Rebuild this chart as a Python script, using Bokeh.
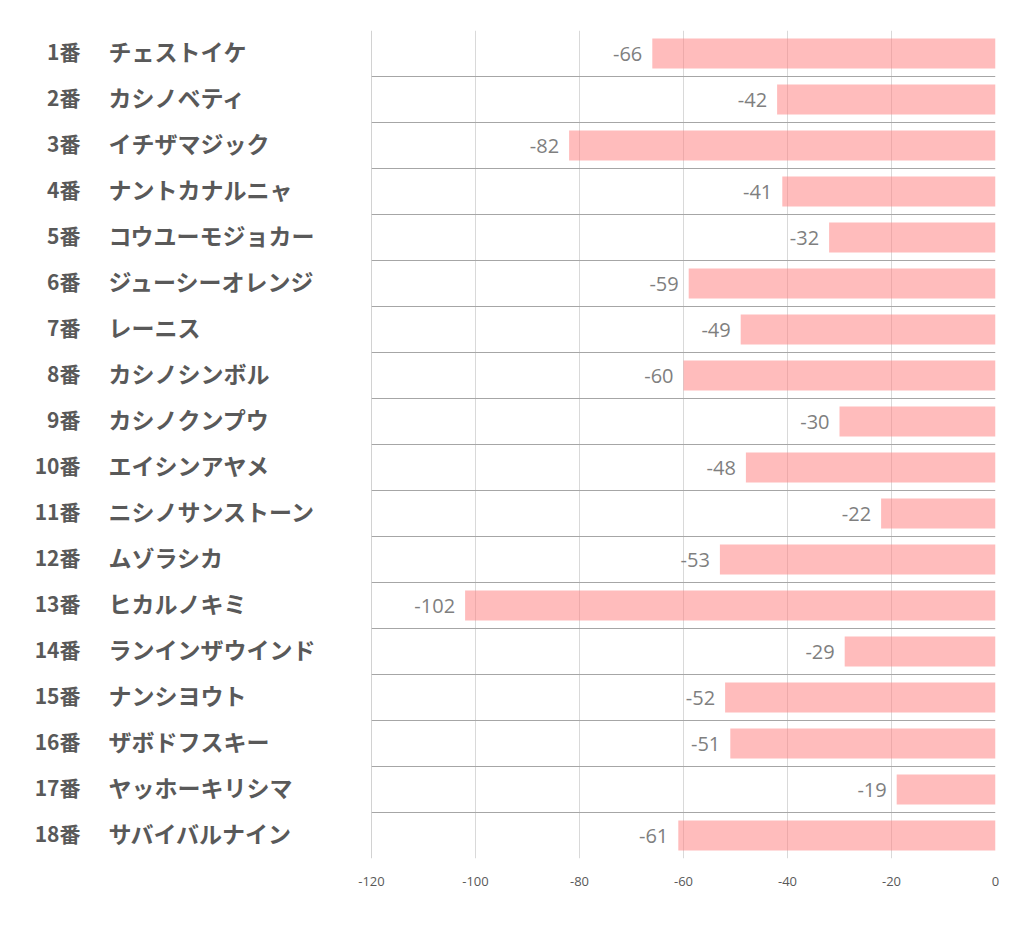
from bokeh.plotting import figure
from bokeh.layouts import row
from bokeh.models import Range1d, FixedTicker, ColumnDataSource, Span
from bokeh.core.properties import value
from bokeh.embed import file_html
from bokeh.resources import INLINE

numbers = ["1番", "2番", "3番", "4番", "5番", "6番", "7番", "8番", "9番", "10番",
           "11番", "12番", "13番", "14番", "15番", "16番", "17番", "18番"]
names = ["チェストイケ", "カシノベティ", "イチザマジック", "ナントカナルニャ", "コウユーモジョカー",
         "ジューシーオレンジ", "レーニス", "カシノシンボル", "カシノクンプウ", "エイシンアヤメ",
         "ニシノサンストーン", "ムゾラシカ", "ヒカルノキミ", "ランインザウインド", "ナンシヨウト",
         "ザボドフスキー", "ヤッホーキリシマ", "サバイバルナイン"]
values = [-66, -42, -82, -41, -32, -59, -49, -60, -30, -48, -22, -53, -102, -29, -52, -51, -19, -61]
x_ticks = [-120, -100, -80, -60, -40, -20, 0]

n = len(values)
ys = [i + 0.5 for i in range(n)]

src = ColumnDataSource(dict(
    y=ys, val=values, zero=[0] * n, txt=[str(v) for v in values],
    num=numbers, name=names,
    xnum=[80] * n, xname=[108] * n,
))

H = 928
TOP = 30
BOTTOM = H - 858

# left label panel
lp = figure(width=351, height=H, output_backend="svg", toolbar_location=None,
            x_range=Range1d(0, 351), y_range=Range1d(n, 0),
            min_border_left=0, min_border_right=0, min_border_top=TOP, min_border_bottom=BOTTOM)
lp.axis.visible = False
lp.grid.visible = False
lp.outline_line_color = None
lp.text(x="xnum", y="y", text="num", source=src, y_offset=-3,
        text_align="right", text_baseline="middle",
        text_font=value("Noto Sans CJK JP"), text_font_style="bold",
        text_font_size="21px", text_color="#595959")
lp.text(x="xname", y="y", text="name", source=src, y_offset=-3,
        text_align="left", text_baseline="middle",
        text_font=value("Noto Sans CJK JP"), text_font_style="bold",
        text_font_size="23px", text_color="#595959")

p = figure(width=1014 - 351, height=H, output_backend="svg", toolbar_location=None,
           x_range=Range1d(-120, 0), y_range=Range1d(n, 0),
           min_border_left=20, min_border_right=19, min_border_top=TOP, min_border_bottom=BOTTOM)
p.outline_line_color = None

p.yaxis.visible = False
p.ygrid.ticker = FixedTicker(ticks=list(range(n + 1)))
p.ygrid.grid_line_color = "#A6A6A6"
p.ygrid.grid_line_width = 1
p.xgrid.ticker = FixedTicker(ticks=x_ticks)
p.xgrid.grid_line_color = "#D9D9D9"

p.xaxis.ticker = FixedTicker(ticks=x_ticks)
p.xaxis.major_label_overrides = {t: str(t) for t in x_ticks}
p.xaxis.axis_line_color = None
p.xaxis.major_tick_line_color = None
p.xaxis.minor_tick_line_color = None
p.xaxis.major_label_text_font = "Open Sans"
p.xaxis.major_label_text_font_size = "13px"
p.xaxis.major_label_text_color = "#595959"
p.xaxis.major_label_standoff = 12

p.add_layout(Span(location=-120, dimension="height", line_color="#A6A6A6", line_width=1))

p.hbar(y="y", left="val", right="zero", height=0.65, source=src,
       fill_color="#FF8080", fill_alpha=0.53, line_color=None)

p.text(x="val", y="y", text="txt", source=src, x_offset=-10,
       text_align="right", text_baseline="middle",
       text_font=value("Open Sans"), text_font_size="20px", text_color="#7F7F7F")

layout = row(lp, p, spacing=0)
open("out.html", "w").write(file_html(layout, INLINE))
